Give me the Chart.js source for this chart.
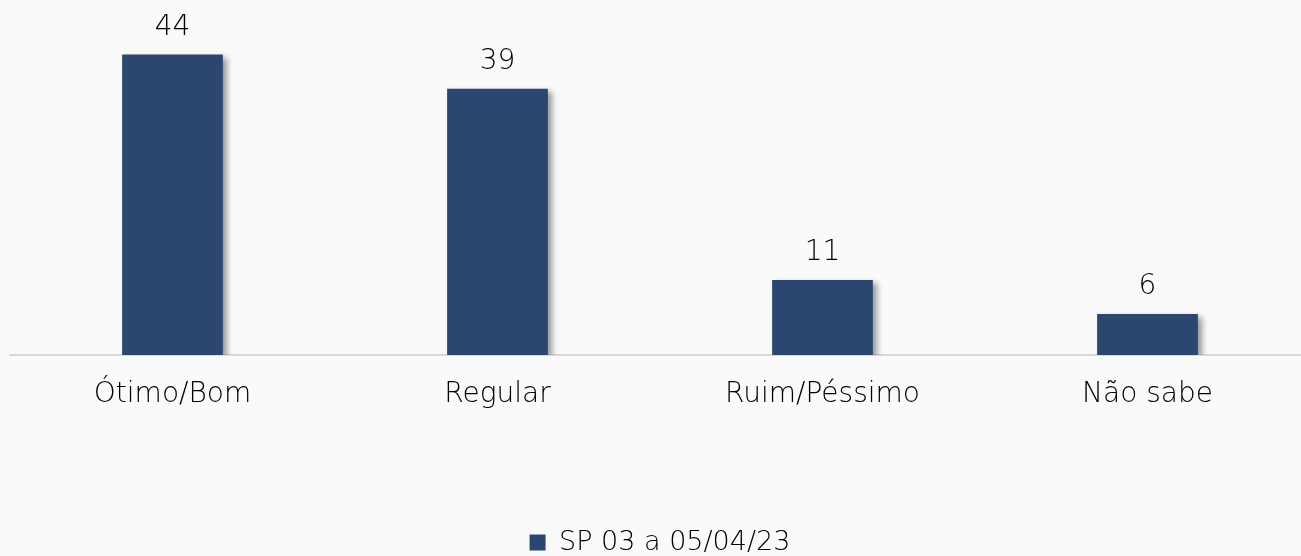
<!DOCTYPE html>
<html lang="pt">
<head>
    <meta charset="UTF-8">
    <title>Avaliação</title>
    <script src="https://cdn.jsdelivr.net/npm/chart.js"></script>
    <style>
        html, body { margin: 0; padding: 0; background: #fafafa; overflow: hidden; }
        #wrap { width: 1336px; height: 566px; }
    </style>
</head>
<body>
    <div id="wrap"><canvas id="myChart"></canvas></div>
    <script>
        const categories = ['Ótimo/Bom', 'Regular', 'Ruim/Péssimo', 'Não sabe'];
        const values = [44, 39, 11, 6];
        const seriesName = 'SP 03 a 05/04/23';

        const FONT = '"DejaVu Sans", sans-serif';
        const BAR = '#2b4770';
        const TEXT = '#000';

        // soft shadow behind bars
        const barShadow = {
            id: 'barShadow',
            beforeDatasetsDraw(chart) {
                const ctx = chart.ctx;
                ctx.save();
                ctx.shadowColor = 'rgba(0,0,0,0.4)';
                ctx.shadowBlur = 6;
                ctx.shadowOffsetX = 4;
                ctx.shadowOffsetY = 3;
            },
            afterDatasetsDraw(chart) {
                chart.ctx.restore();
            }
        };

        // value labels above bars
        const valueLabels = {
            id: 'valueLabels',
            afterDraw(chart) {
                const ctx = chart.ctx;
                const meta = chart.getDatasetMeta(0);
                ctx.save();
                ctx.font = '300 28px ' + FONT;
                ctx.fillStyle = TEXT;
                ctx.textAlign = 'center';
                ctx.textBaseline = 'bottom';
                meta.data.forEach((bar, i) => {
                    ctx.fillText(values[i], bar.x, bar.y - 13);
                });
                ctx.restore();
            }
        };

        new Chart(document.getElementById('myChart'), {
            type: 'bar',
            data: {
                labels: categories,
                datasets: [{
                    label: seriesName,
                    data: values,
                    backgroundColor: BAR,
                    barPercentage: 0.31,
                    categoryPercentage: 1.0
                }]
            },
            options: {
                responsive: true,
                maintainAspectRatio: false,
                animation: false,
                layout: { padding: { left: 10, right: 26, top: 0, bottom: 0 } },
                plugins: {
                    tooltip: { enabled: false },
                    legend: {
                        position: 'bottom',
                        labels: {
                            boxWidth: 16,
                            boxHeight: 16,
                            color: TEXT,
                            font: { family: FONT, size: 27, weight: 300 },
                            padding: 0
                        }
                    }
                },
                scales: {
                    x: {
                        grid: { display: false, drawTicks: false },
                        border: { display: true, color: '#d9d9d9', width: 2 },
                        ticks: { color: TEXT, font: { family: FONT, size: 28, weight: 300 }, padding: 23 },
                        afterFit(scale) { scale.height = 174; }
                    },
                    y: {
                        display: false,
                        min: 0,
                        max: 52
                    }
                }
            },
            plugins: [barShadow, valueLabels]
        });
    </script>
</body>
</html>
